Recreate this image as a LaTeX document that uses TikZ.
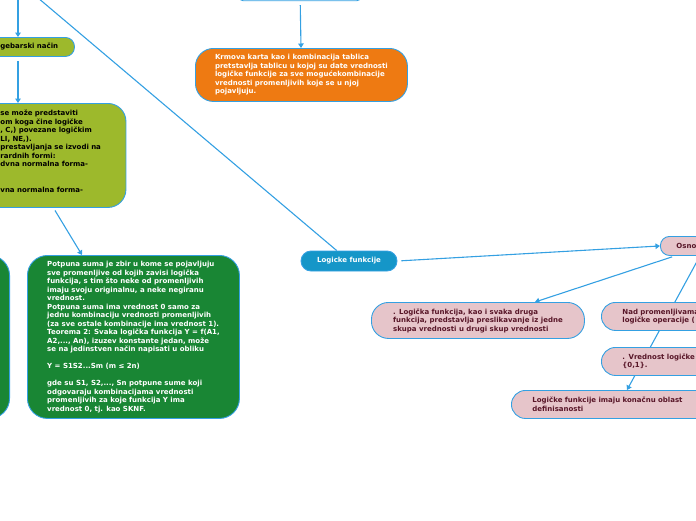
\documentclass[tikz,border=0pt]{standalone}
\usepackage{fontspec}
\setmainfont{DejaVu Sans}
\usepackage{tikz}
\usetikzlibrary{arrows.meta, positioning, backgrounds}
\definecolor{linkblue}{RGB}{52,160,226}
\definecolor{orangefill}{RGB}{238,122,18}
\definecolor{limefill}{RGB}{157,185,44}
\definecolor{greenfill}{RGB}{25,134,52}
\definecolor{cyanfill}{RGB}{21,150,200}
\definecolor{pinkfill}{RGB}{230,197,202}
\definecolor{pinktext}{RGB}{88,22,40}

\begin{document}
\begin{tikzpicture}[x=1pt, y=-1pt,
  font=\fontsize{7}{8.5}\selectfont\bfseries,
  topic/.style={draw=linkblue, line width=0.9pt, align=left, inner ysep=0pt},
  pinktopic/.style={topic, fill=pinkfill, text=pinktext},
  link/.style={linkblue, line width=1.1pt},
  arr/.style={-{Triangle[width=5.5pt,length=4.5pt]}}]
  \useasboundingbox (0,0) rectangle (696,520);
  \clip (0,0) rectangle (696,520);
  % parents above the frame
  \node[topic, fill=white, rounded corners=5pt, minimum width=124pt,
        minimum height=25pt] (krmtop) at (300,-11.8) {};
  \node[minimum width=60pt, minimum height=20pt] (nacini) at (18,-19) {};
  % left branch
  \node[topic, fill=limefill, rounded corners=9pt, text width=60pt,
        inner xsep=14pt, minimum height=19pt, anchor=north west]
    (algeb) at (-14,37) {gebarski način};
  \node[topic, fill=limefill, rounded corners=18pt, text width=106pt,
        inner xsep=19.5pt, minimum height=104pt, anchor=north west]
    (izraz) at (-19.5,103) {se može predstaviti\\
      om koga čine  logičke\\
      , C,) povezane logičkim\\
      LI,  NE,).\\
      prestavljanja se izvodi na\\
      rardnih formi:\\
      dvna normalna forma-\\[17pt]
      vna normalna forma-\\ \mbox{}};
  \node[topic, fill=greenfill, rounded corners=20pt, minimum width=60pt,
        minimum height=163pt, anchor=north east] (levi) at (10,255) {};
  \node[topic, fill=greenfill, text=white, rounded corners=20pt,
        minimum width=212pt, minimum height=163pt, anchor=north west]
    (potpuna) at (27,255) {Potpuna suma je zbir u kome se pojavljuju\\
      sve promenljive od kojih  zavisi logička\\
      funkcija, s tim što neke od promenljivih\\
      imaju svoju  originalnu, a neke negiranu\\
      vrednost.\\
      Potpuna suma ima vrednost 0 samo za\\
      jednu kombinaciju vrednosti  promenljivih\\
      (za sve ostale kombinacije ima vrednost 1).\\
      Teorema 2: Svaka logička funkcija Y = f(A1,\\
      A2,..., An), izuzev konstante  jedan, može\\
      se na jedinstven način napisati u obliku\\[8.5pt]
      Y = S1S2...Sm (m ≤ 2n)\\[8.5pt]
      gde su S1, S2,..., Sn potpune sume koji\\
      odgovaraju kombinacijama vrednosti\\
      promenljivih za koje funkcija Y ima\\
      vrednost 0, tj. kao SKNF.};
  % top branch
  \node[topic, fill=orangefill, text=white, rounded corners=18pt,
        minimum width=212pt, minimum height=53pt, anchor=north west]
    (krmova) at (195,48) {Krmova karta kao i kombinacija tablica\\
      pretstavlja tablicu u kojoj su date vrednosti\\
      logičke funkcije za sve mogućekombinacije\\
      vrednosti promenljivih koje se u njoj\\
      pojavljuju.};
  % central topic
  \node[topic, fill=cyanfill, text=white, align=center, rounded corners=10pt,
        minimum width=96pt, minimum height=20pt] (logicke) at (349,261)
    {Logicke funkcije};
  % right branch
  \node[pinktopic, rounded corners=9pt, text width=80pt, inner xsep=16pt,
        minimum height=19pt, anchor=north west] (osno) at (660,236) {Osno};
  \node[pinktopic, rounded corners=17pt, minimum width=213pt,
        minimum height=36pt, anchor=north west]
    (preslik) at (371,302) {. Logička funkcija, kao i svaka druga\\
      funkcija, predstavlja preslikavanje iz jedne\\
      skupa vrednosti u drugi skup vrednosti};
  \node[pinktopic, rounded corners=14pt, text width=110pt, inner xsep=21pt,
        minimum height=28pt, anchor=north west]
    (nad) at (601,302) {Nad promenljivama\\ logičke operacije (};
  \node[pinktopic, rounded corners=14pt, text width=110pt, inner xsep=21pt,
        minimum height=28pt, anchor=north west]
    (vrednost) at (601,347) {. Vrednost logičke f\\ \{0,1\}.};
  \node[pinktopic, rounded corners=14pt, text width=190pt, inner xsep=21pt,
        minimum height=28pt, anchor=north west]
    (imaju) at (511,390) {Logičke funkcije imaju konačnu oblast\\ definisanosti};
  % connectors
  \begin{pgfonlayer}{background}
    \clip (0,0) rectangle (696,520);
    \draw[link, arr, shorten <=4pt] (krmtop) -- (krmova);
    \draw[link, arr] (logicke) -- (nacini);
    \draw[link, arr] (nacini) -- (nacini |- algeb.north);
    \draw[link, arr, shorten <=4pt] (algeb.south -| nacini) -- (nacini |- izraz.north);
    \draw[link, arr, shorten <=3pt] (izraz.south) -- ([xshift=55pt]potpuna.north west);
    \draw[link, arr, shorten <=4pt] (logicke.east) -- (osno.west);
    \draw[link, arr, shorten <=3pt] ([xshift=15pt]osno.south west) -- ([xshift=57pt]preslik.north);
    \draw[link, arr] ([xshift=40pt]osno.south west) -- ([xshift=116pt]imaju.north west);
  \end{pgfonlayer}
\end{tikzpicture}
\end{document}
